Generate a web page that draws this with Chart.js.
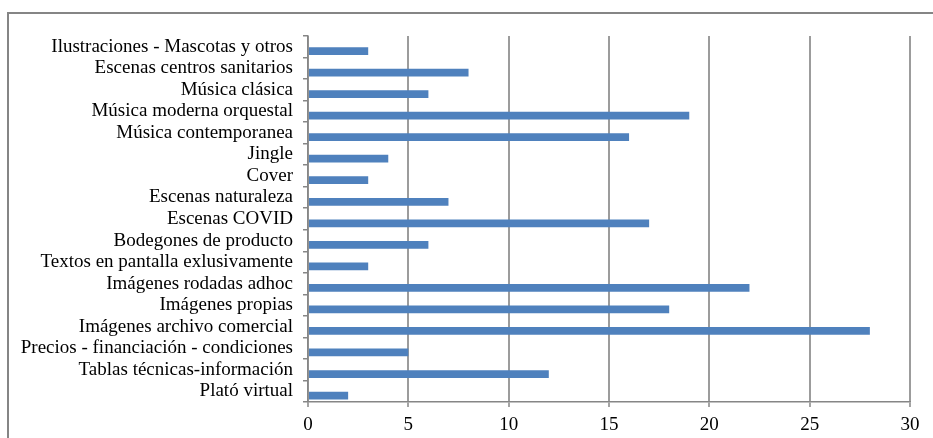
<!DOCTYPE html>
<html>
<head>
<meta charset="utf-8">
<script src="https://cdn.jsdelivr.net/npm/chart.js@4/dist/chart.umd.min.js"></script>
<style>
  html, body { margin: 0; padding: 0; background: #ffffff; }
  #wrap { width: 933px; height: 438px; position: relative; }
</style>
</head>
<body>
<div id="wrap"><canvas id="c" width="933" height="438"></canvas></div>
<script>
// Categories, top to bottom
const categories = [
  'Ilustraciones - Mascotas y otros',
  'Escenas centros sanitarios',
  'Música clásica',
  'Música moderna orquestal',
  'Música contemporanea',
  'Jingle',
  'Cover',
  'Escenas naturaleza',
  'Escenas COVID',
  'Bodegones de producto',
  'Textos en pantalla exlusivamente',
  'Imágenes rodadas adhoc',
  'Imágenes propias',
  'Imágenes archivo comercial',
  'Precios - financiación - condiciones',
  'Tablas técnicas-información',
  'Plató virtual'
];

// Count per category
const values = [3, 8, 6, 19, 16, 4, 3, 7, 17, 6, 3, 22, 18, 28, 5, 12, 2];

// Empty companion series (keeps the bar in the lower slot of each group)
const emptySeries = categories.map(() => null);

// Value axis ticks
const xMin = 0, xMax = 30, xStep = 5;

const serif = "'Liberation Serif', 'Times New Roman', serif";

// Outer frame around the chart
const framePlugin = {
  id: 'frame',
  beforeDraw(chart) {
    const ctx = chart.ctx;
    ctx.save();
    ctx.strokeStyle = '#858585';
    ctx.lineWidth = 2;
    ctx.strokeRect(8, 13, 1000, 1000);
    ctx.restore();
  }
};

new Chart(document.getElementById('c'), {
  type: 'bar',
  data: {
    labels: categories,
    datasets: [
      { label: '', data: emptySeries, backgroundColor: '#4F81BD' },
      { label: '', data: values, backgroundColor: '#4F81BD', borderWidth: 0 }
    ]
  },
  options: {
    indexAxis: 'y',
    responsive: false,
    animation: false,
    devicePixelRatio: 1,
    categoryPercentage: 0.8,
    barPercentage: 0.9,
    layout: { padding: { top: 36, right: 23, left: 0, bottom: 0 } },
    plugins: {
      legend: { display: false },
      tooltip: { enabled: false }
    },
    scales: {
      x: {
        type: 'linear',
        position: 'bottom',
        min: xMin,
        max: xMax,
        ticks: {
          stepSize: xStep,
          color: '#000000',
          font: { family: serif, size: 19 },
          padding: 7
        },
        grid: {
          color: '#9c9c9c',
          lineWidth: 2,
          drawTicks: true,
          tickLength: 5,
          tickColor: '#868686',
          tickWidth: 1.5
        },
        border: { display: true, color: '#868686', width: 1.5 },
        afterFit(scale) { scale.height = 36; }
      },
      y: {
        type: 'category',
        offset: true,
        ticks: {
          color: '#000000',
          font: { family: serif, size: 19 },
          padding: 10,
          autoSkip: false
        },
        grid: {
          offset: true,
          drawOnChartArea: false,
          drawTicks: true,
          tickLength: 5,
          color: '#868686',
          lineWidth: 1.5
        },
        border: { display: true, color: '#868686', width: 1.5 },
        afterFit(scale) { scale.width = 308; }
      }
    }
  },
  plugins: [framePlugin]
});
</script>
</body>
</html>
